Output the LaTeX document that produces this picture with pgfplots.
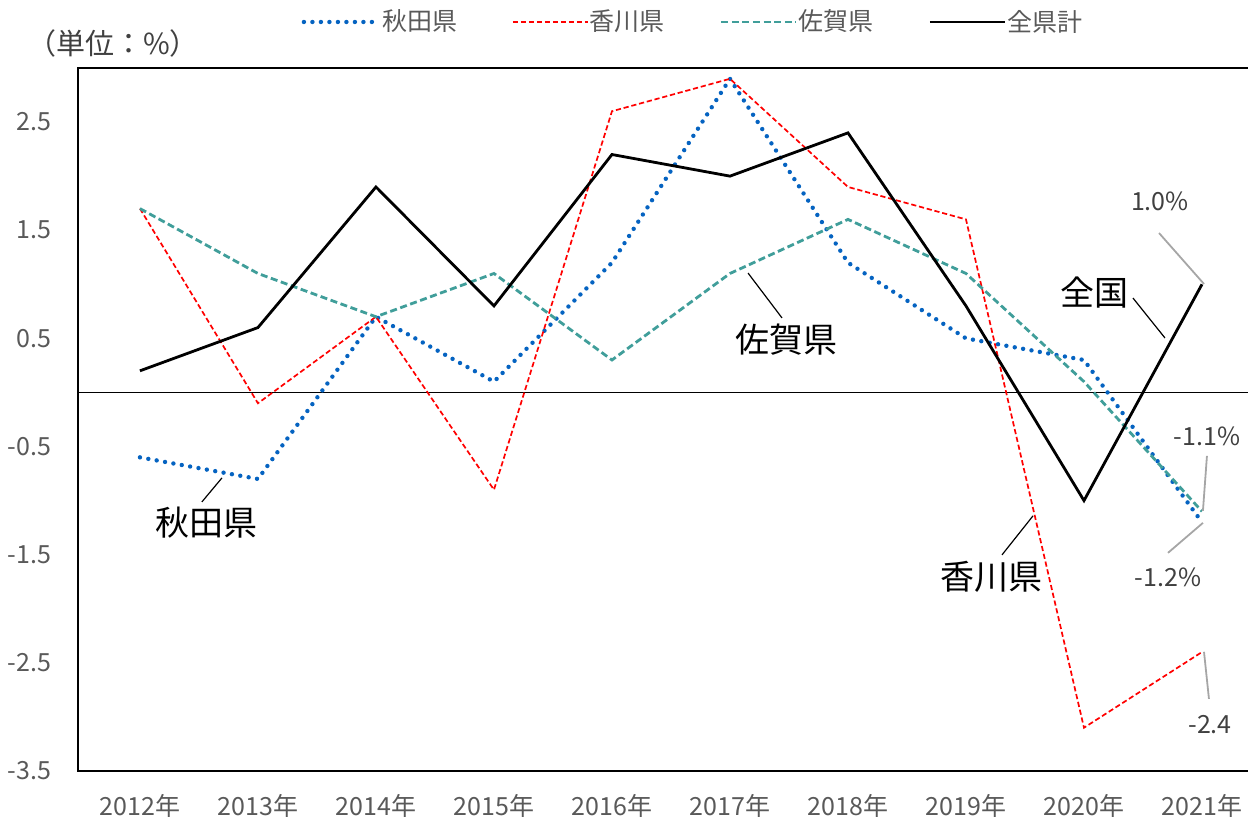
\documentclass[border=0pt]{standalone}
\usepackage{fontspec}
\setmainfont{Noto Sans CJK JP}
\usepackage{pgfplots}
\pgfplotsset{compat=1.18}
\usetikzlibrary{calc}

\definecolor{AkitaBlue}{RGB}{5,99,193}
\definecolor{KagawaRed}{RGB}{255,0,0}
\definecolor{SagaTeal}{RGB}{64,158,154}
\definecolor{TickGray}{RGB}{89,89,89}
\definecolor{ValGray}{RGB}{64,64,64}
\definecolor{LeadGray}{RGB}{166,166,166}

\pgfplotstableread{
year akita kagawa saga zenken
2012 -0.6  1.7  1.7  0.2
2013 -0.8 -0.1  1.1  0.6
2014  0.7  0.7  0.7  1.9
2015  0.1 -0.9  1.1  0.8
2016  1.2  2.6  0.3  2.2
2017  2.9  2.9  1.1  2.0
2018  1.2  1.9  1.6  2.4
2019  0.5  1.6  1.1  0.8
2020  0.3 -3.1  0.1 -1.0
2021 -1.2 -2.4 -1.1  1.0
}\datatable

\begin{document}
\begin{tikzpicture}
\begin{axis}[
  scale only axis,
  width=585bp, height=351.5bp,
  xmin=2011.475, xmax=2021.39,
  ymin=-3.5, ymax=3.0,
  axis line style={draw=none},
  major tick length=0pt,
  xtick={2012,...,2021},
  xticklabels={2012年,2013年,2014年,2015年,2016年,2017年,2018年,2019年,2020年,2021年},
  ytick={-3.5,-2.5,-1.5,-0.5,0.5,1.5,2.5},
  yticklabels={-3.5,-2.5,-1.5,-0.5,0.5,1.5,2.5},
  tick label style={font=\fontsize{12.5bp}{14bp}\selectfont, text=TickGray},
  yticklabel style={xshift=-10bp},
  xticklabel style={yshift=-8bp},
  extra y ticks={0},
  extra y tick labels={},
  extra y tick style={grid=major, major grid style={black, line width=0.9bp}},
  clip=false,
  no markers,
  legend columns=4,
  legend style={at={(0.5265,1)}, anchor=center, yshift=23bp, draw=none, fill=none,
    font=\fontsize{12.5bp}{14bp}\selectfont, text=TickGray,
    /tikz/every odd column/.append style={column sep=-1.5bp},
    /tikz/every even column/.append style={column sep=25.5bp}},
  legend cell align=left,
  legend image code/.code={\draw[#1] (0bp,0bp) -- (37.5bp,0bp);},
]
\addplot[AkitaBlue, line width=2.2bp, line cap=round, dash pattern=on 0bp off 4.25bp]
  table[x=year, y=akita] {\datatable};
\addlegendentry{秋田県}
\addplot[KagawaRed, line width=0.85bp, dash pattern=on 2.6bp off 1.4bp]
  table[x=year, y=kagawa] {\datatable};
\addlegendentry{香川県}
\addplot[SagaTeal, line width=1.4bp, dash pattern=on 3.5bp off 1.8bp]
  table[x=year, y=saga] {\datatable};
\addlegendentry{佐賀県}
\addplot[black, line width=1.4bp]
  table[x=year, y=zenken] {\datatable};
\addlegendentry{全県計}

% frame: left, top, bottom
\draw[black, line width=1bp] (rel axis cs:1,1) -- (rel axis cs:0,1) -- (rel axis cs:0,0) -- (rel axis cs:1,0);
\coordinate (SW) at (rel axis cs:0,0);
\coordinate (NE) at (rel axis cs:1,1);

% unit label
\node[font=\fontsize{14.5bp}{16bp}\selectfont, text=ValGray, anchor=center]
  at ($(rel axis cs:0,1)+(17.5bp,12.5bp)$) {（単位：\%）};

% series labels
\draw[black, line width=0.6bp] (axis cs:2012.695,-0.790) -- (axis cs:2012.525,-1.012);
\node[font=\fontsize{17bp}{19bp}\selectfont] at (axis cs:2012.568,-1.206) {秋田県};
\draw[black, line width=0.6bp] (axis cs:2017.153,1.104) -- (axis cs:2017.441,0.689);
\node[font=\fontsize{17bp}{19bp}\selectfont] at (axis cs:2017.483,0.485) {佐賀県};
\draw[black, line width=0.6bp] (axis cs:2019.568,-1.141) -- (axis cs:2019.305,-1.502);
\node[font=\fontsize{17bp}{19bp}\selectfont] at (axis cs:2019.220,-1.705) {香川県};
\draw[black, line width=0.6bp] (axis cs:2020.415,0.873) -- (axis cs:2020.686,0.504);
\node[font=\fontsize{17bp}{19bp}\selectfont] at (axis cs:2020.093,0.920) {全国};

% value labels
\draw[LeadGray, line width=0.9bp] (axis cs:2020.636,1.474) -- (axis cs:2021.017,1.003);
\node[font=\fontsize{12.5bp}{14bp}\selectfont, text=ValGray] at (axis cs:2020.644,1.770) {1.0\%};
\draw[LeadGray, line width=0.9bp] (axis cs:2021.042,-0.587) -- (axis cs:2021.008,-1.095);
\node[font=\fontsize{12.5bp}{14bp}\selectfont, text=ValGray] at (axis cs:2021.042,-0.402) {-1.1\%};
\draw[LeadGray, line width=0.9bp] (axis cs:2021.008,-1.206) -- (axis cs:2020.712,-1.483);
\node[font=\fontsize{12.5bp}{14bp}\selectfont, text=ValGray] at (axis cs:2020.712,-1.714) {-1.2\%};
\draw[LeadGray, line width=0.9bp] (axis cs:2021.017,-2.398) -- (axis cs:2021.059,-2.833);
\node[font=\fontsize{12.5bp}{14bp}\selectfont, text=ValGray] at (axis cs:2021.068,-3.073) {-2.4};
\end{axis}
\pgfresetboundingbox
\path ($(SW)+(-39bp,-28bp)$) rectangle ($(NE)+(0bp,34bp)$);
\end{tikzpicture}
\end{document}
